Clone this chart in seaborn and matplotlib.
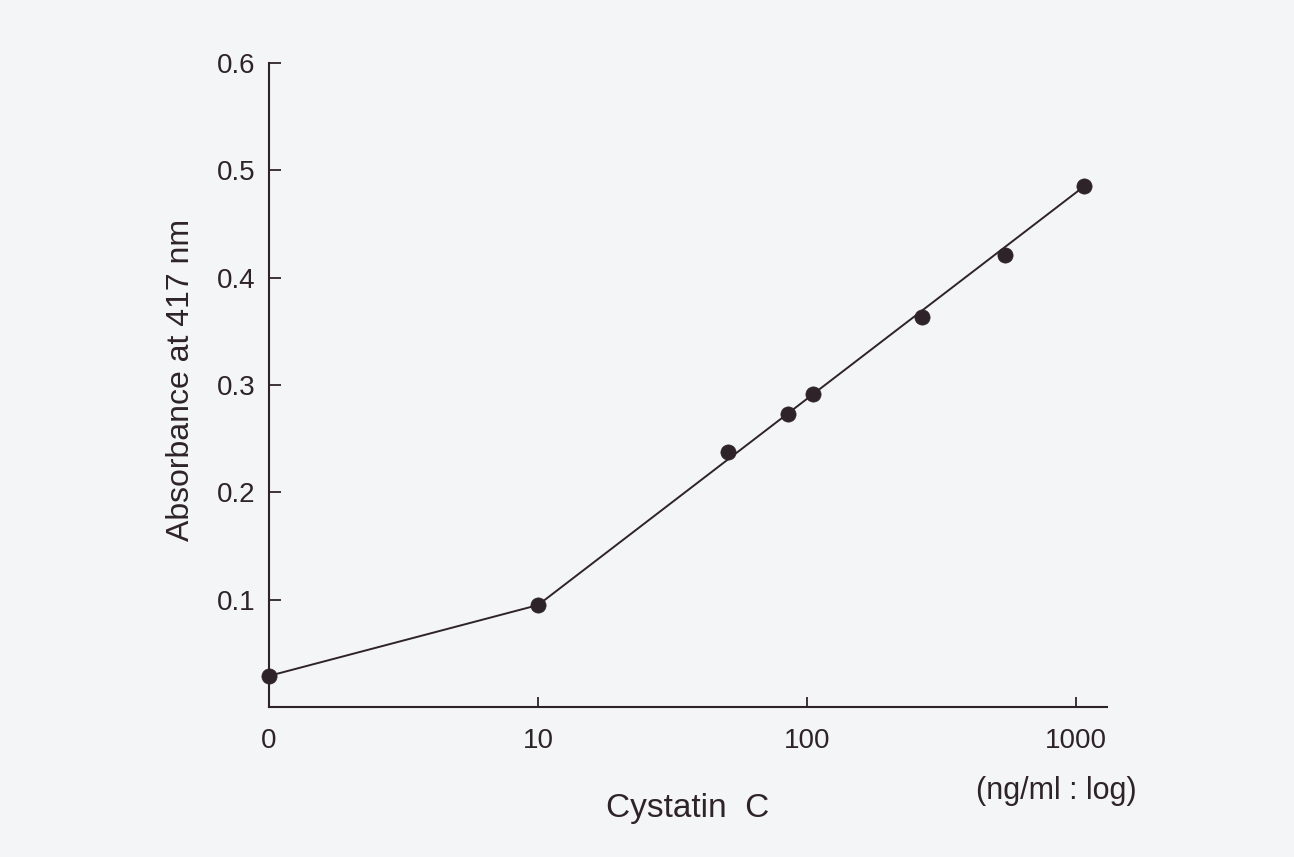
import numpy as np
import pandas as pd
import matplotlib
matplotlib.use("Agg")
import matplotlib.pyplot as plt
import seaborn as sns

# Data (x in ng/ml, log axis; 0 drawn one decade below 10)
concentration = [0, 10, 51, 85, 105, 267, 544, 1070]
absorbance = [0.029, 0.095, 0.238, 0.273, 0.292, 0.363, 0.421, 0.485]

# drawn curve: segment 0 -> 10, then straight calibration line 10 -> 1000
line_conc = [0, 10, 1070]
line_abs = [0.029, 0.095, 0.485]

x_ticks = [0, 10, 100, 1000]
x_tick_labels = ["0", "10", "100", "1000"]
y_ticks = [0.1, 0.2, 0.3, 0.4, 0.5, 0.6]
y_tick_labels = ["0.1", "0.2", "0.3", "0.4", "0.5", "0.6"]

def pos(v):
    v = np.asarray(v, dtype=float)
    return np.where(v == 0, 1.0, v)

pts = pd.DataFrame({"x": pos(concentration), "y": absorbance})
ln = pd.DataFrame({"x": pos(line_conc), "y": line_abs})

sns.set_theme(style="ticks")
plt.rcParams["font.family"] = ["Liberation Sans", "DejaVu Sans"]

bg = "#f4f5f6"
ink = "#2e2329"
fig = plt.figure(figsize=(12.94, 8.57), dpi=100, facecolor=bg)
ax = fig.add_axes([0.2079, 0.175, 0.8555 - 0.2079, 0.9265 - 0.175])
ax.set_facecolor(bg)

sns.lineplot(data=ln, x="x", y="y", ax=ax, color=ink, linewidth=1.4, zorder=2)
sns.scatterplot(data=pts, x="x", y="y", ax=ax, color=ink, s=120,
                edgecolor=ink, linewidth=0.5, zorder=3, clip_on=False)

ax.set_xscale("log")
ax.set_xlim(1, 1303)
ax.set_ylim(0, 0.6)

ax.set_xticks(pos(x_ticks))
ax.set_xticklabels(x_tick_labels, fontsize=20, color=ink)
ax.xaxis.set_minor_locator(matplotlib.ticker.NullLocator())
ax.xaxis.get_major_ticks()[0].tick1line.set_visible(False)
ax.set_yticks(y_ticks)
ax.set_yticklabels(y_tick_labels, fontsize=20, color=ink)

ax.tick_params(axis="x", direction="in", length=7, width=1.3, pad=15, color=ink)
ax.tick_params(axis="y", direction="in", length=8.5, width=1.3, pad=10, color=ink)

for side in ["top", "right"]:
    ax.spines[side].set_visible(False)
for side in ["left", "bottom"]:
    ax.spines[side].set_color(ink)
    ax.spines[side].set_linewidth(1.5)

ax.set_xlabel("Cystatin  C", fontsize=24, color=ink, labelpad=28)
ax.set_ylabel("Absorbance at 417 nm", fontsize=23, color=ink)
ax.yaxis.set_label_coords(-0.087, 0.508)

ax.text(841, -0.0785, "(ng/ml : log)", transform=ax.transData, fontsize=22,
        color=ink, ha="center", va="center")

fig.savefig("out.png", dpi=100, facecolor=bg)
